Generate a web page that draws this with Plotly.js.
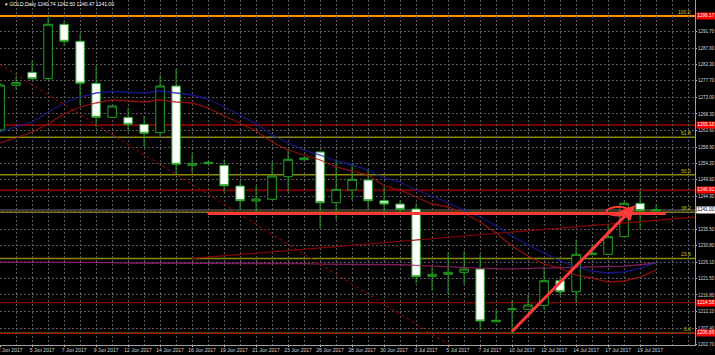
<!DOCTYPE html>
<html>
<head>
<meta charset="utf-8">
<script src="https://cdn.plot.ly/plotly-3.0.1.min.js"></script>
<style>html,body{margin:0;padding:0;background:#000;}#chart{width:715px;height:355px;}</style>
</head>
<body>
<div id="chart"></div>
<script>
// ---- data ----
const symbol = 'GOLD,Daily';
const dates = ['2 Jun 2017','4 Jun 2017','5 Jun 2017','6 Jun 2017','7 Jun 2017','8 Jun 2017','9 Jun 2017','11 Jun 2017','12 Jun 2017','13 Jun 2017','14 Jun 2017','15 Jun 2017','16 Jun 2017','18 Jun 2017','19 Jun 2017','20 Jun 2017','21 Jun 2017','22 Jun 2017','23 Jun 2017','25 Jun 2017','26 Jun 2017','27 Jun 2017','28 Jun 2017','29 Jun 2017','30 Jun 2017','2 Jul 2017','3 Jul 2017','4 Jul 2017','5 Jul 2017','6 Jul 2017','7 Jul 2017','9 Jul 2017','10 Jul 2017','11 Jul 2017','12 Jul 2017','13 Jul 2017','14 Jul 2017','16 Jul 2017','17 Jul 2017','18 Jul 2017','19 Jul 2017','20 Jul 2017'];
const openP  = [1263.73,1276.45,1280.15,1278.33,1293.81,1288.97,1277.02,1267.35,1267.35,1265.36,1262.97,1276.25,1253.69,1254.15,1253.69,1247.80,1243.54,1244.02,1250.45,1255.29,1257.48,1243.05,1246.67,1249.51,1243.62,1242.68,1241.26,1222.11,1222.68,1223.25,1224.19,1209.20,1212.61,1212.72,1213.86,1220.86,1217.73,1228.26,1228.37,1233.38,1242.88,1240.74];
const highP  = [1277.11,1278.81,1283.37,1296.17,1294.75,1291.25,1281.94,1270.56,1270.08,1267.72,1279.38,1281.09,1257.19,1254.92,1255.40,1249.03,1247.89,1254.72,1258.05,1256.05,1257.85,1255.40,1254.26,1252.55,1247.60,1243.82,1242.88,1224.84,1228.83,1229.31,1228.37,1212.53,1215.37,1216.79,1224.84,1222.00,1232.64,1231.30,1236.71,1243.62,1246.47,1242.50];
const lowP   = [1263.17,1275.12,1277.96,1277.96,1287.63,1270.85,1264.59,1267.15,1263.25,1258.98,1262.03,1250.93,1251.50,1253.92,1246.18,1240.98,1240.04,1243.82,1246.18,1255.06,1235.77,1238.13,1243.82,1241.17,1239.07,1239.84,1220.12,1218.01,1217.08,1219.64,1206.84,1209.11,1205.88,1212.53,1212.72,1216.31,1214.60,1228.17,1228.17,1233.38,1235.48,1240.47];
const closeP = [1276.54,1277.19,1278.33,1293.81,1288.97,1277.02,1267.35,1270.56,1265.36,1262.80,1276.25,1253.98,1254.26,1254.55,1247.89,1243.62,1244.10,1250.65,1255.40,1255.77,1243.05,1246.86,1249.71,1243.62,1242.68,1241.17,1222.00,1222.68,1223.25,1224.19,1209.40,1209.60,1212.81,1213.95,1220.86,1217.73,1228.37,1228.66,1233.38,1242.88,1240.78,1241.00];
const maFast = [1263.17,1264.59,1266.01,1268.86,1271.42,1273.12,1274.26,1274.69,1274.55,1274.26,1274.83,1274.26,1273.69,1272.55,1270.28,1268.00,1265.44,1262.31,1260.04,1258.04,1256.62,1254.92,1253.78,1252.35,1250.08,1248.94,1246.66,1244.96,1242.97,1240.97,1238.98,1236.42,1233.58,1231.02,1228.74,1226.47,1224.76,1223.62,1223.05,1223.34,1224.47,1225.90];
const maSlow = [1260.04,1261.46,1263.17,1265.44,1268.29,1270.28,1271.42,1272.27,1271.99,1271.70,1272.27,1271.70,1271.42,1269.99,1267.72,1265.73,1263.45,1260.32,1258.04,1256.62,1255.20,1253.21,1252.07,1250.93,1247.80,1246.66,1244.67,1242.68,1241.83,1240.12,1237.56,1234.43,1230.73,1227.89,1225.61,1224.47,1222.48,1221.63,1220.49,1220.78,1221.91,1223.90];
const maLong = [1226.2,1226.2,1226.2,1226.1,1226.1,1226.0,1226.0,1226.0,1225.9,1225.9,1225.9,1225.8,1225.8,1225.8,1225.8,1225.7,1225.7,1225.7,1225.7,1225.7,1225.6,1225.6,1225.6,1225.6,1225.6,1225.4,1225.2,1225.0,1224.8,1224.5,1224.3,1224.2,1224.2,1224.3,1224.4,1224.5,1224.6,1224.7,1224.8,1225.0,1225.4,1225.9];
// x-axis labels (every second bar)
const labelDates = ['2 Jun 2017','5 Jun 2017','7 Jun 2017','9 Jun 2017','12 Jun 2017','14 Jun 2017','16 Jun 2017','19 Jun 2017','21 Jun 2017','23 Jun 2017','26 Jun 2017','28 Jun 2017','30 Jun 2017','3 Jul 2017','5 Jul 2017','7 Jul 2017','10 Jul 2017','12 Jul 2017','14 Jul 2017','17 Jul 2017','19 Jul 2017'];
// y-axis tick labels ('' = hidden behind the current-price label)
const priceTicks = [1202.70,1207.40,1212.10,1216.80,1221.50,1226.10,1230.80,1235.50,1240.20,1244.90,1249.60,1254.20,1258.90,1263.60,1268.30,1273.00,1277.70,1282.30,1287.00,1291.70];
const priceTickText = ['1202.70','1207.40','1212.10','1216.80','1221.50','1226.10','1230.80','1235.50','','1244.90','1249.60','1254.20','1258.90','1263.60','1268.30','1273.00','1277.70','1282.30','1287.00','1291.70'];
// Fibonacci retracement
const fiboHigh = 1296.17, fiboLow = 1205.88;
const fiboLevels = [0.0, 23.6, 38.2, 50.0, 61.8, 100.0];
// horizontal support/resistance lines
const srLevels = [1296.17, 1265.18, 1246.62, 1214.58, 1205.88];
const srLabels = ['1296.17','1265.18','1246.92','1214.58','1206.88'];
// drawn lines (bar index, price)
const dotTrend = {x: [-3, 27], y: [1285.15, 1200.01]};
const riseTrend = {x: [10, 41.5], y: [1227.2, 1239.0]};
const hLine = {x: [10.97, 39.6], y: [1240.0, 1240.0]};
const arrowLine = {x: [29.9, 37.7], y: [1205.98, 1242.3]};
const ellipse = {x: [35.9, 37.4], y: [1239.4, 1241.8]};

// ---- build ----
const idx = dates.map((d, i) => i - 2);
const labelIdx = labelDates.map(d => idx[dates.indexOf(d)]);
const last = dates.length - 1;
const green = '#22a322';
const FONT = 'Liberation Sans, Arial, sans-serif';
const traces = [
  {type: 'candlestick', x: idx, open: openP, high: highP, low: lowP, close: closeP,
   increasing: {line: {color: green, width: 1}, fillcolor: '#000000'},
   decreasing: {line: {color: green, width: 1}, fillcolor: '#ffffff'},
   whiskerwidth: 0, hoverinfo: 'skip'},
  {type: 'scatter', mode: 'lines', x: idx, y: maLong, opacity: 0.8, line: {color: '#a0206e', width: 1.3}, hoverinfo: 'skip'},
  {type: 'scatter', mode: 'lines', x: idx, y: maFast, opacity: 0.8, line: {color: '#1a1aa8', width: 1.3}, hoverinfo: 'skip'},
  {type: 'scatter', mode: 'lines', x: idx, y: maSlow, opacity: 0.8, line: {color: '#b01010', width: 1.3}, hoverinfo: 'skip'}
];
const shapes = [];
const annotations = [];
const fiboPrice = fiboLevels.map(r => fiboLow + (fiboHigh - fiboLow) * r / 100);
fiboPrice.forEach((p, k) => {
  shapes.push({type: 'line', xref: 'paper', x0: 0, x1: 1, yref: 'y', y0: p, y1: p,
    line: {color: fiboLevels[k] === 100 ? '#ff8c00' : '#8a8a00', width: fiboLevels[k] === 100 ? 2 : 1.5}, layer: 'below'});
  annotations.push({xref: 'paper', x: 0.997, xanchor: 'right', yref: 'y', y: p, yanchor: 'bottom', yshift: -1,
    text: fiboLevels[k].toFixed(1), showarrow: false, font: {size: 5, color: '#c8c800', family: FONT}});
});
srLevels.forEach((p, k) => {
  const dark = (k === 1 || k === 2);
  if (k > 0) shapes.push({type: 'line', xref: 'paper', x0: 0, x1: 1, yref: 'y', y0: p, y1: p,
    line: {color: dark ? '#7a0000' : '#b00000', width: dark ? 2 : 1}, layer: 'below'});
  annotations.push({xref: 'paper', x: 1, xanchor: 'left', xshift: 0.5, yref: 'y', y: p, yanchor: 'middle',
    text: srLabels[k], showarrow: false, bgcolor: '#ff0000', borderpad: 0.3,
    font: {size: 4.7, color: '#ffffff', family: FONT}});
});
// current price line and label
shapes.push({type: 'line', xref: 'paper', x0: 0, x1: 1, yref: 'y', y0: closeP[last], y1: closeP[last],
  line: {color: '#4a4a4a', width: 1.5}, layer: 'below'});
annotations.push({xref: 'paper', x: 1, xanchor: 'left', xshift: 0.5, yref: 'y', y: closeP[last], yanchor: 'middle',
  text: closeP[last].toFixed(2), showarrow: false, bgcolor: '#ffffff', borderpad: 0.3,
  font: {size: 4.7, color: '#000000', family: FONT}});
// drawn objects
shapes.push({type: 'line', xref: 'x', yref: 'y', x0: dotTrend.x[0], x1: dotTrend.x[1], y0: dotTrend.y[0], y1: dotTrend.y[1],
  line: {color: '#8b0000', width: 1.2, dash: 'dot'}});
shapes.push({type: 'line', xref: 'x', yref: 'y', x0: riseTrend.x[0], x1: riseTrend.x[1], y0: riseTrend.y[0], y1: riseTrend.y[1],
  line: {color: '#8b0000', width: 1.2}});
shapes.push({type: 'line', xref: 'x', yref: 'y', x0: hLine.x[0], x1: hLine.x[1], y0: hLine.y[0], y1: hLine.y[1],
  line: {color: '#ff3838', width: 3}});
shapes.push({type: 'circle', xref: 'x', yref: 'y', x0: ellipse.x[0], x1: ellipse.x[1], y0: ellipse.y[0], y1: ellipse.y[1],
  line: {color: '#ff3838', width: 2}});
annotations.push({xref: 'x', yref: 'y', axref: 'x', ayref: 'y', x: arrowLine.x[1], y: arrowLine.y[1],
  ax: arrowLine.x[0], ay: arrowLine.y[0], text: '', showarrow: true, arrowhead: 2, arrowsize: 1,
  arrowwidth: 3, arrowcolor: '#ff3838', standoff: 0});
// header
annotations.push({xref: 'paper', yref: 'paper', x: 0.004, y: 1, xanchor: 'left', yanchor: 'top', yshift: 1,
  text: '\u25BE ' + symbol + ' ' + [openP[last], highP[last], lowP[last], closeP[last]].map(v => v.toFixed(2)).join(' '),
  showarrow: false, font: {size: 5, color: '#ffffff', family: FONT}});

const pxPerBar = 16, firstLabelPx = 32.1, plotW = 695;
const xr = [-(firstLabelPx) / pxPerBar, (plotW - firstLabelPx) / pxPerBar];
const layout = {
  width: 715, height: 355,
  margin: {l: 0, r: 20, t: 0, b: 10, pad: 0},
  paper_bgcolor: '#000000', plot_bgcolor: '#000000',
  showlegend: false, boxgap: 0.24,
  font: {family: FONT, size: 5, color: '#d8d8d8'},
  xaxis: {range: xr, tickmode: 'array', tickvals: labelIdx, ticktext: labelDates,
    showgrid: true, gridcolor: '#5c5c5c', griddash: '2px,2px', gridwidth: 1,
    minor: {tickmode: 'linear', tick0: 0, dtick: 1, showgrid: true, gridcolor: '#5c5c5c', griddash: '2px,2px', gridwidth: 1},
    ticks: 'outside', ticklen: 1, tickcolor: '#c0c0c0', ticklabelshift: 10, ticklabelstandoff: -1,
    ticklabeloverflow: 'allow',
    tickfont: {size: 5, color: '#d8d8d8'}, showline: true, linecolor: '#a0a0a0', linewidth: 1,
    zeroline: false, rangeslider: {visible: false}, fixedrange: true},
  yaxis: {range: [1202.57, 1300.72], side: 'right', tickmode: 'array', tickvals: priceTicks,
    ticktext: priceTickText,
    showgrid: true, gridcolor: '#5c5c5c', griddash: '2px,2px', gridwidth: 1,
    ticks: 'outside', ticklen: 1, tickcolor: '#c0c0c0', ticklabelstandoff: 0, tickfont: {size: 4.5, color: '#d8d8d8'},
    showline: true, linecolor: '#a0a0a0', linewidth: 1, zeroline: false, fixedrange: true},
  shapes: shapes, annotations: annotations
};
Plotly.newPlot('chart', traces, layout, {staticPlot: true, displayModeBar: false});
</script>
</body>
</html>
